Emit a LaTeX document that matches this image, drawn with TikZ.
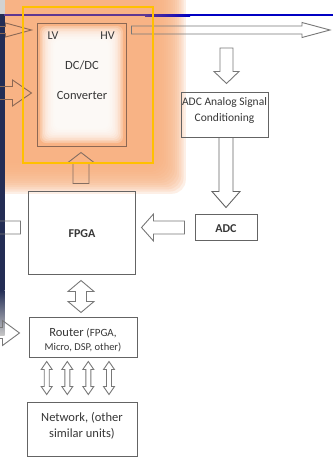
\documentclass[tikz,border=0pt]{standalone}
\usepackage{fontspec}
\setmainfont{Carlito}
\usetikzlibrary{calc}
\definecolor{glowc}{RGB}{248,178,130}
\definecolor{boxc}{RGB}{100,100,100}
\definecolor{arrc}{RGB}{120,120,120}
\definecolor{brn}{RGB}{140,104,84}
\definecolor{txtc}{RGB}{55,55,55}
\definecolor{yel}{RGB}{255,192,0}
\definecolor{blu}{RGB}{0,0,195}
\definecolor{purp}{RGB}{95,55,145}
\definecolor{navy}{RGB}{35,45,85}
\tikzset{
  box/.style={draw=boxc, line width=1pt, inner sep=0pt},
  lbl/.style={text=txtc, inner sep=0pt, anchor=base},
  arrowline/.style={draw=arrc, line width=0.9pt, line join=miter},
  fsA/.style={font=\fontsize{12.5}{15}\selectfont},
  fsB/.style={font=\fontsize{11.5}{14}\selectfont},
  fsC/.style={font=\fontsize{10.5}{13}\selectfont},
  fsD/.style={font=\fontsize{12}{14}\selectfont\bfseries},
}
% single block arrow: [style]{from}{to}{half shaft}{half head}{head length}
\newcommand{\blockarrow}[6][]{%
  \path (#2) coordinate (ba-s) (#3) coordinate (ba-e);
  \path ($(ba-e)!#6!(ba-s)$) coordinate (ba-h);
  \draw[arrowline,#1] ($(ba-s)!#4!90:(ba-e)$) -- ($(ba-h)!#4!-90:(ba-s)$) -- ($(ba-h)!#5!-90:(ba-s)$) -- (ba-e) -- ($(ba-h)!#5!90:(ba-s)$) -- ($(ba-h)!#4!90:(ba-s)$) -- ($(ba-s)!#4!-90:(ba-e)$) -- cycle;
}
% double block arrow
\newcommand{\dblarrow}[6][]{%
  \path (#2) coordinate (da-s) (#3) coordinate (da-e);
  \path ($(da-s)!#6!(da-e)$) coordinate (da-h2) ($(da-e)!#6!(da-s)$) coordinate (da-h1);
  \draw[arrowline,#1] (da-s) -- ($(da-h2)!#5!90:(da-e)$) -- ($(da-h2)!#4!90:(da-e)$) -- ($(da-h1)!#4!-90:(da-s)$) -- ($(da-h1)!#5!-90:(da-s)$) -- (da-e) -- ($(da-h1)!#5!90:(da-s)$) -- ($(da-h1)!#4!90:(da-s)$) -- ($(da-h2)!#4!-90:(da-e)$) -- ($(da-h2)!#5!-90:(da-e)$) -- cycle;
}
\begin{document}
\begin{tikzpicture}[x=1pt,y=-1pt]
\useasboundingbox (0,0) rectangle (333,461);
\fill[white] (0,0) rectangle (333,461);
% orange glow
\foreach \i in {0,...,14} {
  \fill[glowc, opacity=0.2, rounded corners=14pt] (-40,-40) rectangle ({155+2.2*\i},{163+2.2*\i});
}
\foreach \i in {0,...,9} {
  \fill[white, opacity=0.25, rounded corners=6pt] ({40+1.6*\i},{26+1.6*\i}) rectangle ({123-1.6*\i},{143-1.6*\i});
}
% left photo strip
\fill[gray!35] (0,0) rectangle (4.5,14);
\fill[navy] (0,14) rectangle (4.5,290);
\shade[top color=navy, bottom color=gray!45] (0,290) rectangle (4.5,335);
% top rule
\fill[purp] (4,14) rectangle (145,16);
\shade[left color=purp, right color=blu] (145,14) rectangle (190,16);
\fill[blu] (190,14) rectangle (333,16);

% boxes
\node[box, draw=brn, minimum width=89pt, minimum height=123pt] (dcdc) at (81.5,84.5) {};
\node[box, minimum width=87pt, minimum height=45pt] (adcsig) at (224.5,114.5) {};
\node[box, minimum width=62pt, minimum height=26pt] (adc) at (226,227) {};
\node[box, minimum width=107pt, minimum height=83pt] (fpga) at (81.5,232.5) {};
\node[box, minimum width=108pt, minimum height=40pt] (router) at (83,337) {};
\node[box, minimum width=110pt, minimum height=54pt] (network) at (82,429) {};

% labels
\node[lbl, font=\fontsize{12}{14}\selectfont] (lv) at (53,39) {LV};
\node[lbl, font=\fontsize{12}{14}\selectfont] (hv) at (107.5,39) {HV};
\node[lbl, fsA] (dct) at (82,69) {DC/DC};
\node[lbl, fsA] (conv) at (82,99) {Converter};
\node[lbl, fsB] (adcs1) at (224.5,105) {ADC Analog Signal};
\node[lbl, fsB] (adcs2) at (224.5,121) {Conditioning};
\node[lbl, fsD] (adct) at (226,232) {ADC};
\node[lbl, fsD] (fpgat) at (82,237.5) {FPGA};
\node[lbl, fsA] (rt1) at (83,336) {Router {\fontsize{11}{13}\selectfont(FPGA,}};
\node[lbl, fsC] (rt2) at (83,350) {Micro, DSP, other)};
\node[lbl, fsA] (nt1) at (82,421) {Network, (other};
\node[lbl, fsA] (nt2) at (82,437) {similar units)};

% named connector ends
\coordinate (in1s) at (-12,30);
\coordinate (in1e) at ($(dcdc.west |- 0,30)+(-5,0)$);
\coordinate (in2s) at (-12,93);
\coordinate (in2e) at ($(dcdc.west |- 0,93)+(-5,0)$);
\coordinate (outs) at ($(dcdc.east |- 0,30)+(5,0)$);
\coordinate (oute) at (330,30);
\coordinate (sigs) at (226.5,48);
\coordinate (sige) at ($(adcsig.north -| 226.5,0)+(0,-8)$);
\coordinate (a5s) at (adcsig.south -| adc.north);
\coordinate (a5e) at ($(adc.north)+(0,-6)$);
\coordinate (a6s) at ($(adc.west |- 0,227.5)+(-10,0)$);
\coordinate (a6e) at ($(fpga.east |- 0,227.5)+(6,0)$);
\coordinate (a7s) at ($(fpga.north -| 81,0)+(0,-7)$);
\coordinate (a7e) at ($(dcdc.south -| 81,0)+(0,6)$);
\coordinate (a8s) at ($(fpga.west |- 0,227.5)+(-7,0)$);
\coordinate (a8e) at (-30,227.5);
\coordinate (a9s) at ($(fpga.south -| 81,0)+(0,6)$);
\coordinate (a9e) at ($(router.north -| 81,0)+(0,-4)$);
\coordinate (a10s) at (-20,333);
\coordinate (a10e) at ($(router.west |- 0,333)+(-9,0)$);

% arrows
\blockarrow[draw=brn]{in1s}{in1e}{3.5pt}{7pt}{26pt}
\blockarrow[draw=brn]{in2s}{in2e}{6.5pt}{13pt}{19pt}
\blockarrow{outs}{oute}{4pt}{7.5pt}{28pt}
\blockarrow{sigs}{sige}{6.5pt}{12.5pt}{12pt}
\blockarrow[draw=boxc]{a5s}{a5e}{7pt}{14pt}{16pt}
\blockarrow{a6s}{a6e}{6.5pt}{13.5pt}{12pt}
\blockarrow[draw=brn!60!arrc]{a7s}{a7e}{8pt}{13pt}{10pt}
\blockarrow{a8s}{a8e}{6.5pt}{13pt}{15pt}
\dblarrow{a9s}{a9e}{5.5pt}{13pt}{11pt}
\blockarrow{a10s}{a10e}{5.5pt}{12.5pt}{17pt}
\foreach \xx [count=\k] in {46.7,67.3,88.3,109} {
  \coordinate (ds\k) at (router.south -| \xx,0);
  \coordinate (de\k) at (network.north -| \xx,0);
  \dblarrow{$(ds\k)+(0,4)$}{$(de\k)+(0,-7)$}{2.5pt}{5.5pt}{8pt}
}

% highlight frame
\draw[yel, line width=1.5pt] (23,7) rectangle (153,163);
\end{tikzpicture}
\end{document}
